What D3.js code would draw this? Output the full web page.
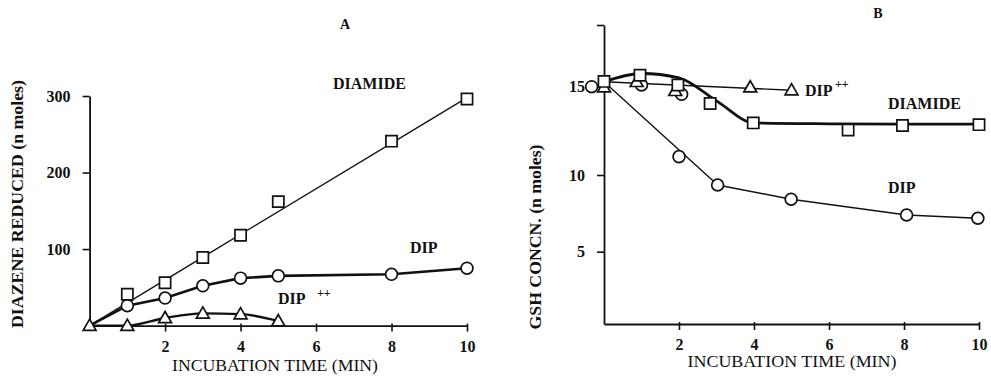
<!DOCTYPE html>
<html><head><meta charset="utf-8">
<script src="https://cdn.jsdelivr.net/npm/d3@7"></script>
<style>
html,body{margin:0;padding:0;background:#fff;}
text{font-family:"Liberation Serif","DejaVu Serif",serif;fill:#111;}
</style></head>
<body>
<svg id="c" width="991" height="377"></svg>
<script>
// ---------- DATA ----------
const xTickValues = [2, 4, 6, 8, 10];
const yTicksA = [100, 200, 300];
const yTicksB = [5, 10, 15];

// Panel A: diazene reduced (n moles)
const timeA = [1, 2, 3, 4, 5, 8, 10];
const diamideA = [41, 56, 89, 118, 162, 241, 296];
const dipA = [26, 36, 52, 62, 65, 67, 75];
const timeDipPPA = [0, 1, 2, 3, 4, 5];
const dipPPA = [0, 0, 10, 16, 15, 6];
const fitDiamideTimeA = [0, 10];
const fitDiamideA = [0, 298];

// Panel B: GSH concentration (n moles)
const timeDiamideB = [0, 0.96, 1.97, 2.83, 3.98, 6.51, 7.96, 10];
const diamideB = [15.3, 15.65, 15.1, 14.05, 12.95, 12.55, 12.8, 12.85];
const timeDipPPB = [0, 0.87, 1.9, 3.9, 5.0];
const dipPPB = [14.97, 15.28, 14.77, 14.97, 14.81];
const timeDipB = [2.0, 3.03, 4.99, 8.07, 9.97];
const dipB = [11.04, 9.35, 8.42, 7.39, 7.18];
const timeOtherCirclesB = [-0.33, 1.0, 2.07];
const otherCirclesB = [15.0, 15.1, 14.57];
const fitDiamideTimeB = [0, 1, 2, 3, 4, 6, 8, 10];
const fitDiamideB = [15.28, 15.75, 15.5, 14.2, 12.95, 12.9, 12.88, 12.88];
const fitDipPPTimeB = [0, 5];
const fitDipPPB = [15.28, 14.8];
const fitDipTimeB = [0, 3.03, 4.99, 8.07, 9.97];
const fitDipB = [15.28, 9.35, 8.42, 7.39, 7.18];

// ---------- DRAW ----------
const FONT = '"Liberation Serif","DejaVu Serif",serif';
const svg = d3.select("#c");
svg.append("rect").attr("width", 991).attr("height", 377).attr("fill", "#fff");

const xA = d3.scaleLinear().domain([0, 10]).range([89.6, 467]);
const yA = d3.scaleLinear().domain([0, 300]).range([325.6, 96]);
const xB = d3.scaleLinear().domain([0, 10]).range([604, 979]);
const yB = d3.scaleLinear().domain([0, 5, 10, 15, 18.5]).range([324, 251.7, 175, 86.7, 25]);

const zip = (xs, ys) => xs.map((x, i) => [x, ys[i]]);

function axes(g, x, y, yTicks, yTop) {
  const ax = g.append("g").attr("transform", `translate(0,${y(0)})`)
    .call(d3.axisBottom(x).tickValues(xTickValues).tickSizeInner(6).tickSizeOuter(0).tickPadding(9).tickFormat(d3.format("d")));
  ax.attr("font-family", FONT);
  ax.select(".domain").attr("stroke", "#111").attr("stroke-width", 1.8);
  ax.selectAll(".tick line").attr("stroke", "#111").attr("stroke-width", 1.6).attr("y1", -2);
  ax.selectAll("text").attr("font-size", 16).attr("font-weight", "bold").attr("fill", "#111").attr("font-family", FONT);
  const tv = yTop != null ? yTicks.concat([yTop]) : yTicks;
  const ay = g.append("g").attr("transform", `translate(${x(0)},0)`)
    .call(d3.axisLeft(y).tickValues(tv).tickSizeInner(7).tickSizeOuter(0).tickPadding(12)
      .tickFormat(d => yTicks.includes(d) ? d3.format("d")(d) : ""));
  ay.attr("font-family", FONT);
  ay.select(".domain").attr("stroke", "#111").attr("stroke-width", 1.8);
  ay.selectAll(".tick line").attr("stroke", "#111").attr("stroke-width", 1.6);
  ay.selectAll("text").attr("font-size", 16).attr("font-weight", "bold").attr("fill", "#111").attr("font-family", FONT);
}

function line(g, x, y, pts, w, curve) {
  g.append("path").datum(pts)
    .attr("d", d3.line().x(d => x(d[0])).y(d => y(d[1])).curve(curve || d3.curveLinear))
    .attr("fill", "none").attr("stroke", "#111").attr("stroke-width", w)
    .attr("stroke-linejoin", "round").attr("stroke-linecap", "round");
}

function markers(g, x, y, pts, type) {
  const sym = type === "square" ? d3.symbolSquare : type === "circle" ? d3.symbolCircle : d3.symbolTriangle;
  const size = type === "square" ? 125 : type === "circle" ? 110 : 72;
  g.selectAll(null).data(pts).enter().append("path")
    .attr("d", d3.symbol().type(sym).size(size))
    .attr("transform", d => `translate(${x(d[0])},${y(d[1]) + (type === "triangle" ? 1 : 0)})`)
    .attr("fill", "#fff").attr("stroke", "#111").attr("stroke-width", 1.7);
}

// Panel A
const gA = svg.append("g");
axes(gA, xA, yA, yTicksA, null);
line(gA, xA, yA, zip(fitDiamideTimeA, fitDiamideA), 1.4);
line(gA, xA, yA, [[0, 0]].concat(zip(timeA, dipA)), 2.6);
line(gA, xA, yA, zip(timeDipPPA, dipPPA), 2.4, d3.curveMonotoneX);
markers(gA, xA, yA, zip(timeA, diamideA), "square");
markers(gA, xA, yA, zip(timeA, dipA), "circle");
markers(gA, xA, yA, zip(timeDipPPA, dipPPA), "triangle");

// Panel B
const gB = svg.append("g");
axes(gB, xB, yB, yTicksB, 18.5);
line(gB, xB, yB, zip(fitDipTimeB, fitDipB), 1.4);
line(gB, xB, yB, zip(fitDipPPTimeB, fitDipPPB), 1.4);
line(gB, xB, yB, zip(fitDiamideTimeB, fitDiamideB), 2.8, d3.curveMonotoneX);
markers(gB, xB, yB, zip(timeOtherCirclesB, otherCirclesB), "circle");
markers(gB, xB, yB, zip(timeDipB, dipB), "circle");
markers(gB, xB, yB, zip(timeDipPPB, dipPPB), "triangle");
markers(gB, xB, yB, zip(timeDiamideB, diamideB), "square");

// Text
function txt(x, y, s, size, weight, anchor, rot, len) {
  const t = svg.append("text").attr("x", x).attr("y", y).attr("font-size", size)
    .attr("font-family", FONT)
    .attr("font-weight", weight || "normal").attr("text-anchor", anchor || "start").text(s);
  if (rot) t.attr("transform", `rotate(${rot},${x},${y})`);
  if (len) t.attr("textLength", len).attr("lengthAdjust", "spacingAndGlyphs");
  return t;
}
txt(345, 29, "A", 14, "bold", "middle");
txt(878, 18, "B", 14, "bold", "middle");
txt(275, 371, "INCUBATION TIME (MIN)", 16, "normal", "middle", null, 206);
txt(792, 367, "INCUBATION TIME (MIN)", 16, "normal", "middle", null, 209);
txt(23, 204, "DIAZENE REDUCED (n moles)", 16, "bold", "middle", -90, 248);
txt(541, 237, "GSH CONCN. (n moles)", 16, "bold", "middle", -90, 185);

txt(333, 89, "DIAMIDE", 16, "bold");
txt(410, 253, "DIP", 16, "bold");
txt(278, 304, "DIP", 16, "bold");
txt(317, 297, "++", 12, "bold");
txt(805, 96, "DIP", 16, "bold");
txt(835, 88, "++", 12, "bold");
txt(888, 109, "DIAMIDE", 16, "bold");
txt(888, 193, "DIP", 16, "bold");
</script>
</body></html>
